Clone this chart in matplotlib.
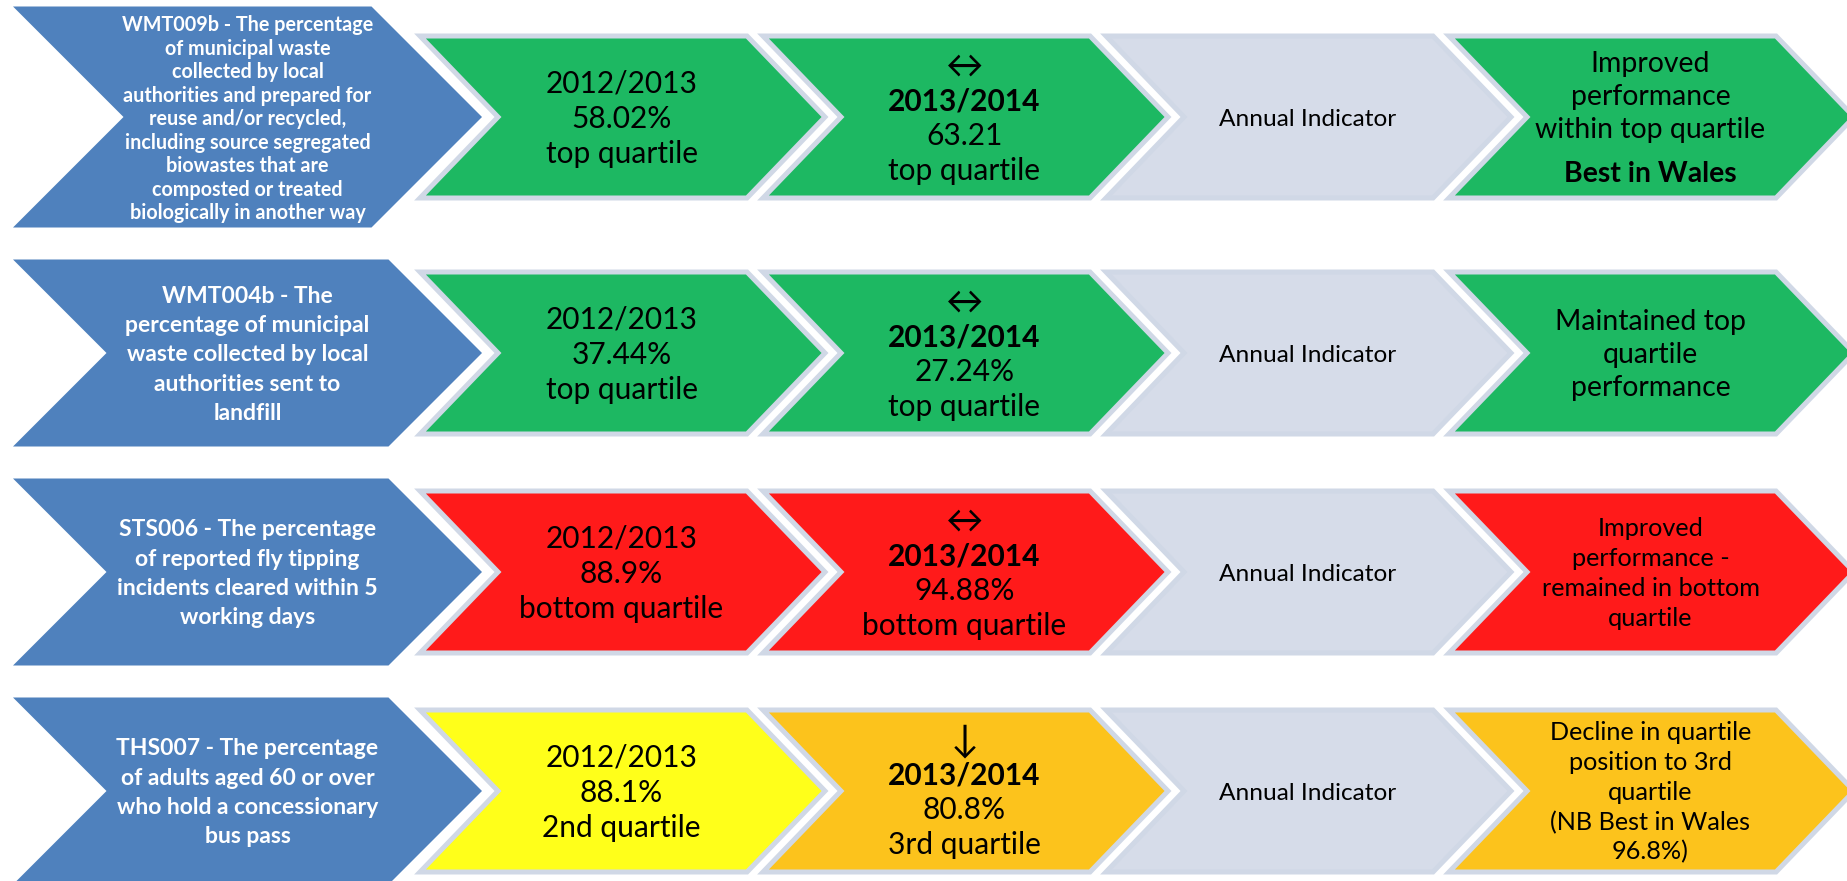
import matplotlib
matplotlib.use("Agg")
import matplotlib.pyplot as plt
from matplotlib.patches import Polygon

# indicator descriptions (blue arrows)
indicators = [
    ["WMT009b - The percentage", "of municipal waste", "collected by local",
     "authorities and prepared for", "reuse and/or recycled,",
     "including source segregated", "biowastes that are",
     "composted or treated", "biologically in another way"],
    ["WMT004b - The", "percentage of municipal", "waste collected by local",
     "authorities sent to", "landfill"],
    ["STS006 - The percentage", "of reported fly tipping",
     "incidents cleared within 5", "working days"],
    ["THS007 - The percentage", "of adults aged 60 or over",
     "who hold a concessionary", "bus pass"],
]

prev_year = "2012/2013"
prev_value = ["58.02%", "37.44%", "88.9%", "88.1%"]
prev_quartile = ["top quartile", "top quartile", "bottom quartile", "2nd quartile"]

curr_year = "2013/2014"
trend = ["\u2194", "\u2194", "\u2194", "\u2193"]
curr_value = ["63.21", "27.24%", "94.88%", "80.8%"]
curr_quartile = ["top quartile", "top quartile", "bottom quartile", "3rd quartile"]

frequency = "Annual Indicator"

summary = [
    ["Improved", "performance", "within top quartile"],
    ["Maintained top", "quartile", "performance"],
    ["Improved", "performance -", "remained in bottom", "quartile"],
    ["Decline in quartile", "position to 3rd", "quartile", "(NB Best in Wales", "96.8%)"],
]
summary_note = ["Best in Wales", "", "", ""]

# quartile colours per row
GREEN, RED, YELLOW, AMBER = "#1db862", "#ff1a1a", "#ffff1a", "#fcc31c"
prev_colour = [GREEN, GREEN, RED, YELLOW]
curr_colour = [GREEN, GREEN, RED, AMBER]
summary_colour = [GREEN, GREEN, RED, AMBER]
BLUE = "#4f81bd"
GREY = "#d6dce9"
EDGE = "#d0d8e6"

FONT = ["Lato", "DejaVu Sans"]

# layout in pixels
W, H = 1847, 881
row_mid = [117, 353, 572, 791]
blue_half = [110.5, 93.5, 93.5, 93.5]
blue_tip = 482
blue_left = 13
col_left = [420, 763, 1106, 1449]
col_width = 327
col_depth = 78
col_half = 81
PX2PT = 72 / 100

fig = plt.figure(figsize=(W / 100, H / 100), dpi=100)
ax = fig.add_axes([0, 0, 1, 1])
ax.set_xlim(0, W)
ax.set_ylim(H, 0)
ax.axis("off")


def chevron(x0, yc, width, half, depth, face, edge=None, lw=0.0):
    pts = [(x0, yc - half), (x0 + width, yc - half), (x0 + width + depth, yc),
           (x0 + width, yc + half), (x0, yc + half), (x0 + depth, yc)]
    ax.add_patch(Polygon(pts, closed=True, facecolor=face,
                         edgecolor=edge if edge else face,
                         linewidth=lw, joinstyle="miter"))


def text_block(x, yc, items, size, pitch, color="black"):
    # items: (text, bold, extra gap before line, size override)
    ys = []
    y = 0
    for i, it in enumerate(items):
        if i > 0:
            y += pitch + it[2]
        ys.append(y)
    off = (ys[0] + ys[-1]) / 2
    for it, yy in zip(items, ys):
        s, bold = it[0], it[1]
        sz = it[3] if len(it) > 3 else size
        em = sz / PX2PT
        ax.text(x, yc + yy - off + 0.36 * em, s, ha="center", va="baseline",
                fontsize=sz, color=color, family=FONT,
                fontweight="bold" if bold else "normal")


for r in range(4):
    yc = row_mid[r]
    half = blue_half[r]
    chevron(blue_left, yc, blue_tip - half - blue_left, half, half, BLUE)
    bx = (blue_left + blue_tip) / 2
    if r == 0:
        text_block(bx, yc + 1, [(s, True, 0) for s in indicators[r]], 14.2, 23.5, "white")
    else:
        text_block(bx, yc, [(s, True, 0) for s in indicators[r]], 16.5, 29.3, "white")

    faces = [prev_colour[r], curr_colour[r], GREY, summary_colour[r]]
    for c in range(4):
        chevron(col_left[c], yc, col_width, col_half, col_depth, faces[c], EDGE, 5 * PX2PT)

    cx = [col_left[c] + (col_width + col_depth) / 2 - 1 for c in range(4)]

    text_block(cx[0], yc, [(prev_year, False, 0), (prev_value[r], False, 0),
                           (prev_quartile[r], False, 0)], 21.5, 35)
    text_block(cx[1], yc, [(trend[r], False, 0, 27), (curr_year, True, 0),
                           (curr_value[r], False, 0), (curr_quartile[r], False, 0)], 21.5, 35)
    text_block(cx[2], yc, [(frequency, False, 0)], 17.6, 30)

    items = [(s, False, 0) for s in summary[r]]
    if summary_note[r]:
        items.append((summary_note[r], True, 11))
    if r < 2:
        text_block(cx[3], yc, items, 20.4, 33)
    else:
        text_block(cx[3], yc, items, 18.2, 29.8)

fig.savefig("out.png", dpi=100, facecolor="white")
